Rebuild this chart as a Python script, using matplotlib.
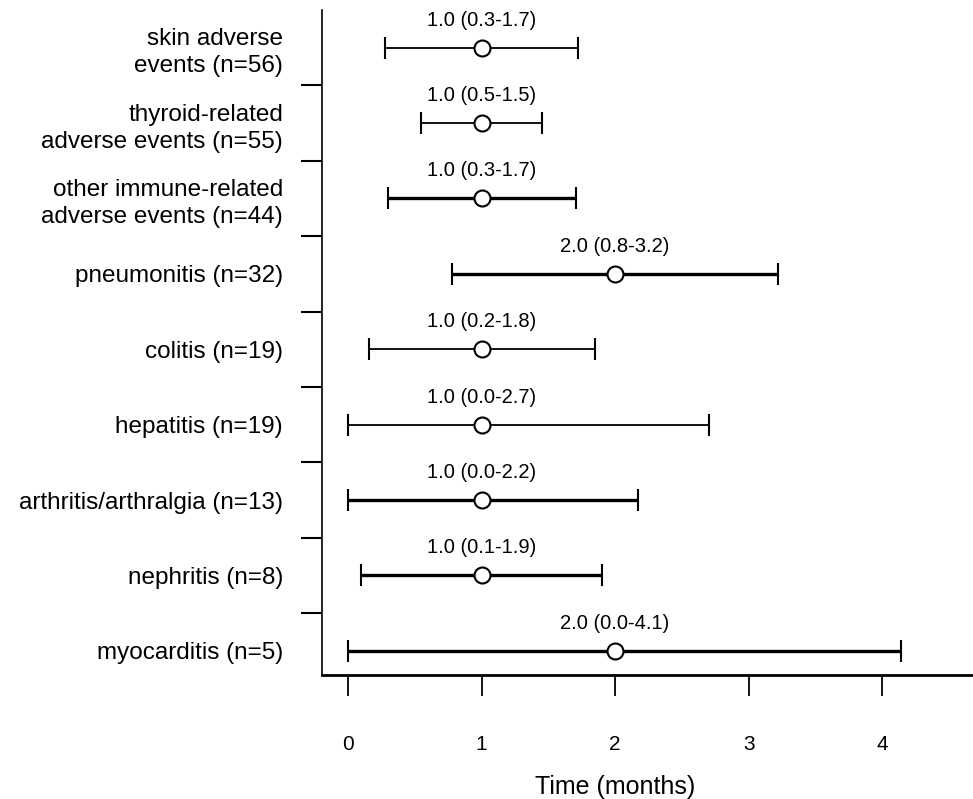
import matplotlib
matplotlib.use("Agg")
import matplotlib.pyplot as plt

plt.rcParams["font.family"] = ["Liberation Sans", "DejaVu Sans"]

categories = [
    "skin adverse\nevents (n=56)",
    "thyroid-related\nadverse events (n=55)",
    "other immune-related\nadverse events (n=44)",
    "pneumonitis (n=32)",
    "colitis (n=19)",
    "hepatitis (n=19)",
    "arthritis/arthralgia (n=13)",
    "nephritis (n=8)",
    "myocarditis (n=5)",
]
median = [1.0, 1.0, 1.0, 2.0, 1.0, 1.0, 1.0, 1.0, 2.0]
lower = [0.28, 0.55, 0.30, 0.78, 0.16, 0.0, 0.0, 0.10, 0.0]
upper = [1.72, 1.45, 1.71, 3.22, 1.85, 2.70, 2.17, 1.90, 4.14]
ci_text = [
    "1.0 (0.3-1.7)", "1.0 (0.5-1.5)", "1.0 (0.3-1.7)", "2.0 (0.8-3.2)",
    "1.0 (0.2-1.8)", "1.0 (0.0-2.7)", "1.0 (0.0-2.2)", "1.0 (0.1-1.9)",
    "2.0 (0.0-4.1)",
]
x_ticks = [0, 1, 2, 3, 4]

# some rows in the original were drawn with heavier strokes
line_widths = [1.3, 1.3, 2.4, 2.4, 1.3, 1.3, 2.4, 2.4, 2.4]


def main():
    fig = plt.figure(figsize=(9.73, 7.99), dpi=100)
    ax = fig.add_axes([322 / 973, 1 - 675 / 799, 651 / 973, 665 / 799])

    for i in range(len(categories)):
        ax.errorbar(median[i], i,
                    xerr=[[median[i] - lower[i]], [upper[i] - median[i]]],
                    fmt="o", mfc="white", mec="black", mew=1.5, ms=11.5,
                    ecolor="black", elinewidth=line_widths[i], capsize=8,
                    capthick=line_widths[i], zorder=3)
        ax.annotate(ci_text[i], (median[i], i), xytext=(0, 13),
                    textcoords="offset points", ha="center", va="bottom",
                    fontsize=14.5)

    xmin, xmax = -0.195, 4.68
    ax.set_xlim(xmin, xmax)
    ax.set_ylim(len(categories) - 1 + 0.32, -0.5)

    ax.set_yticks([i + 0.5 for i in range(len(categories) - 1)])
    ax.set_yticklabels([])
    ax.set_yticks(range(len(categories)), minor=True)
    ax.set_yticklabels(categories, minor=True, fontsize=17.5, linespacing=1.3)
    ax.tick_params(axis="y", which="major", length=15, width=1.5)
    ax.tick_params(axis="y", which="minor", length=0, pad=28)

    ax.set_xticks(x_ticks)
    ax.set_xticklabels([str(t) for t in x_ticks], fontsize=15)
    ax.tick_params(axis="x", length=15, width=1.3, pad=28)
    # label sits under the middle tick rather than the middle of the axis
    ax.set_xlabel("Time (months)", fontsize=18, labelpad=15,
                  x=(2 - xmin) / (xmax - xmin))

    for s in ["top", "right"]:
        ax.spines[s].set_visible(False)
    ax.spines["left"].set_linewidth(1.2)
    ax.spines["bottom"].set_linewidth(2)

    fig.savefig("out.png", dpi=100)


if __name__ == "__main__":
    main()
